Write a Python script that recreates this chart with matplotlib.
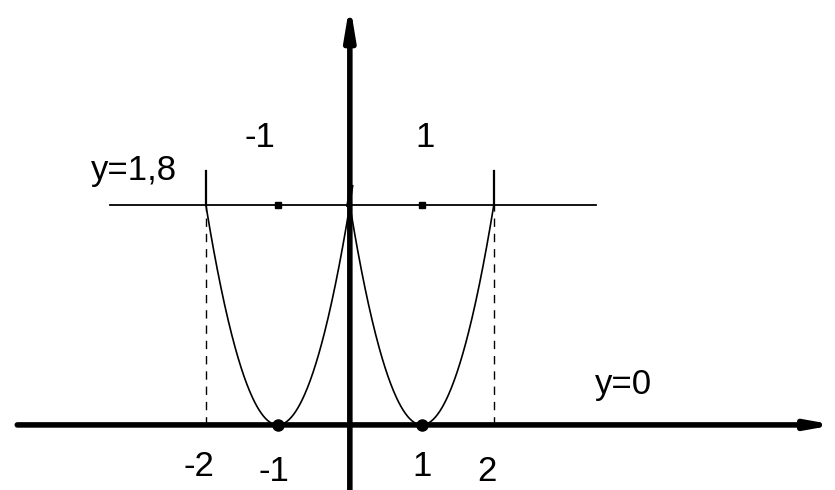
import matplotlib
matplotlib.use("Agg")
import matplotlib.pyplot as plt
import numpy as np

# values
level = 1.8                 # horizontal line y=1,8
curve_x = np.linspace(-2, 2, 401)
curve_y = level * (np.abs(curve_x) - 1) ** 2
edge_x = [-2, 2]            # dashed verticals and curve ends
edge_top = 2.08             # curve ends overshoot the line a little
dot_x = [-1, 1]
tick_labels = {-2: "-2", -1: "-1", 1: "1", 2: "2"}

plt.rcParams['font.family'] = ['Liberation Sans', 'DejaVu Sans']

fig = plt.figure(figsize=(8.35, 4.9), dpi=100)
ax = fig.add_axes([0, 0, 1, 1])
ax.set_xlim(-4.86, 6.74)
ax.set_ylim(-0.533, 3.48)
ax.axis('off')

# axes with arrows
ax.annotate('', xy=(6.74, 0), xytext=(-4.62, 0),
            arrowprops=dict(arrowstyle='-|>,head_length=1.4,head_width=0.25', lw=4, color='black',
                            shrinkA=0, shrinkB=0))
ax.annotate('', xy=(0, 3.45), xytext=(0, -0.533),
            arrowprops=dict(arrowstyle='-|>,head_length=1.8,head_width=0.3', lw=4, color='black',
                            shrinkA=0, shrinkB=0))

# horizontal line y = 1.8
ax.plot([-3.33, 3.42], [level, level], color='black', lw=1.3)

# the curve
ax.plot(curve_x, curve_y, color='black', lw=1.2)
for ex in edge_x:
    ax.plot([ex, ex], [level, edge_top], color='black', lw=1.6)
    ax.plot([ex, ex], [0, level], color='black', lw=1, ls=(0, (6, 5)))
ax.plot([-0.02, 0.02], [level, 1.95], color='black', lw=3)

# dots
ax.plot(dot_x, [level] * 2, 's', color='black', ms=5)
ax.plot(dot_x, [0, 0], 'o', color='black', ms=8)

# labels
fs = 25
ax.text(-2.4, 2.08, "y=1,8", fontsize=fs, ha='right', va='center')
ax.text(-1.25, 2.35, "-1", fontsize=fs, ha='center', va='center')
ax.text(1.05, 2.35, "1", fontsize=fs, ha='center', va='center')
ax.text(3.4, 0.33, "y=0", fontsize=fs, ha='left', va='center')
label_pos = {-2: (-2.1, -0.34), -1: (-1.05, -0.38), 1: (1.0, -0.34), 2: (1.9, -0.38)}
for v, s in tick_labels.items():
    px, py = label_pos[v]
    ax.text(px, py, s, fontsize=fs, ha='center', va='center')

fig.savefig('out.png', dpi=100, facecolor='white')
